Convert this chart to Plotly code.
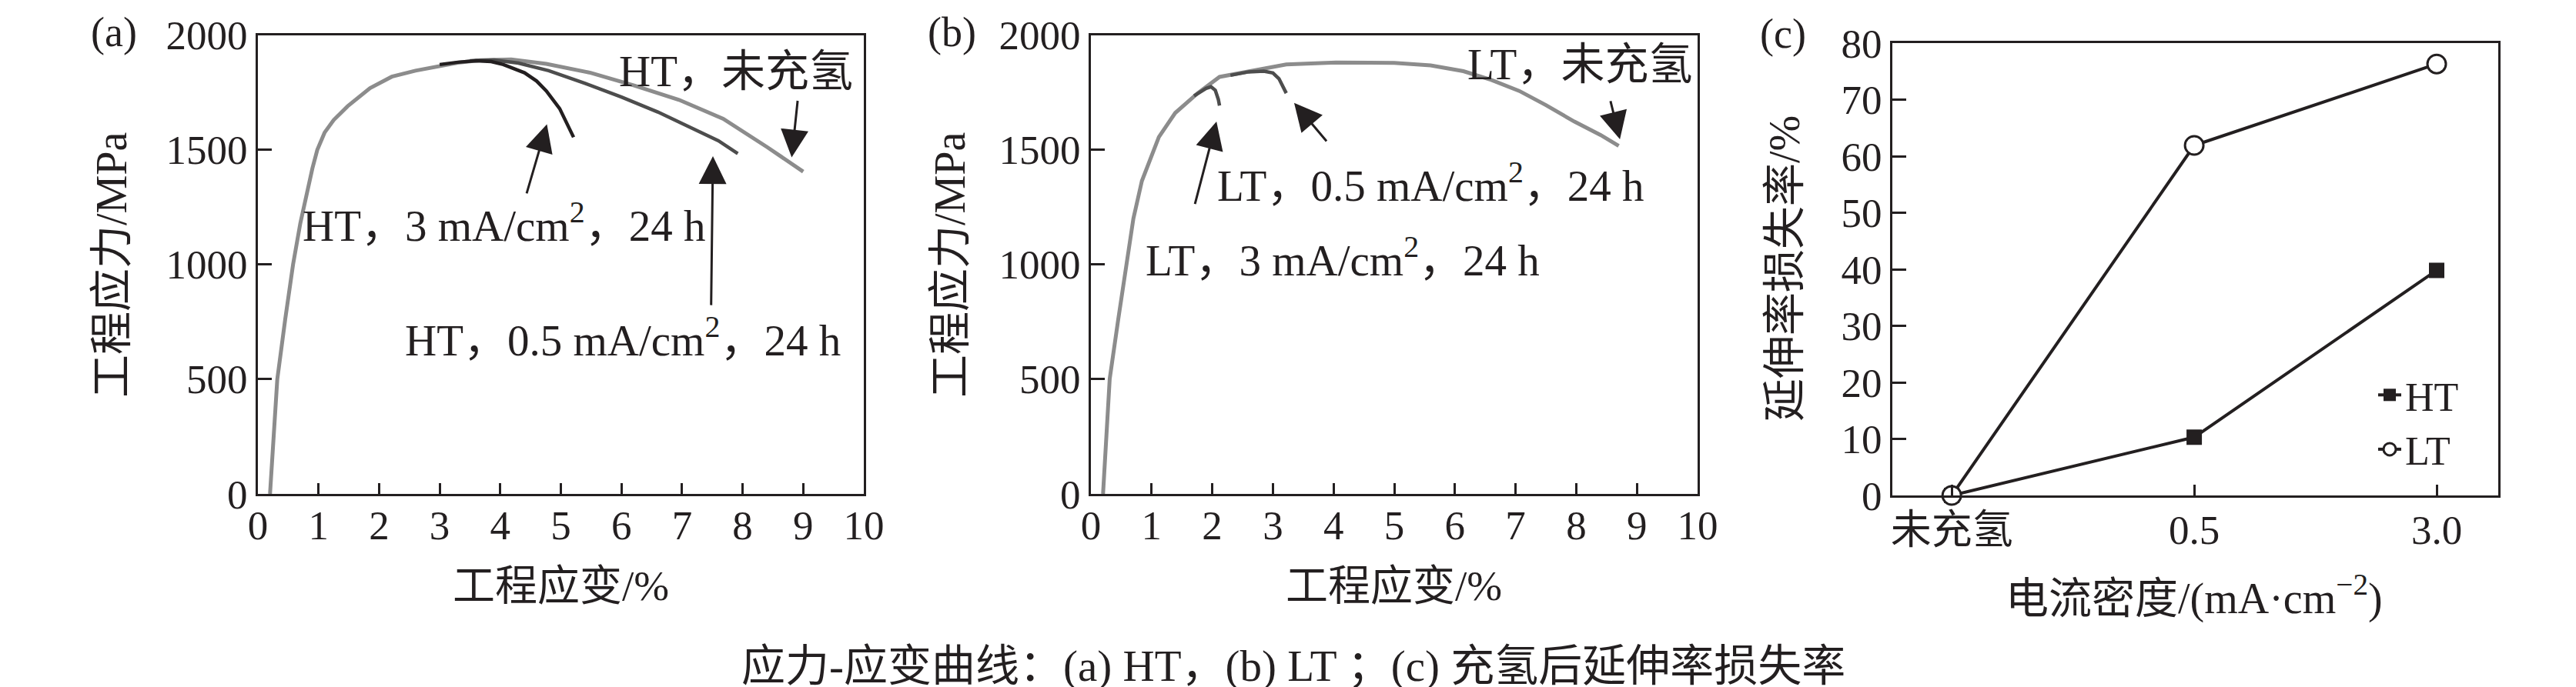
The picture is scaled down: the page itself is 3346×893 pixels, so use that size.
import plotly.graph_objects as go

# ---------------- data ----------------
# (a) HT
ht_un_strain = [0.20, 0.26, 0.32, 0.45, 0.58, 0.70, 0.80, 0.90, 0.98, 1.10, 1.25, 1.48, 1.85, 2.21, 2.6, 2.94, 3.3, 3.67, 4.18, 4.76, 5.49, 6.22, 6.95, 7.68, 8.41, 9.0]
ht_un_stress = [0, 250, 500, 760, 1000, 1180, 1310, 1420, 1500, 1575, 1630, 1690, 1769, 1819, 1845, 1864, 1880, 1891, 1894, 1875, 1836, 1780, 1718, 1635, 1511, 1405]
ht_05_strain = [3.5, 3.9, 4.3, 4.8, 5.4, 6.0, 6.6, 7.2, 7.6, 7.92]
ht_05_stress = [1888, 1892, 1878, 1845, 1790, 1730, 1665, 1590, 1540, 1484]
ht_3_strain = [3.0, 3.3, 3.6, 3.85, 4.05, 4.4, 4.6, 4.76, 4.98, 5.21]
ht_3_stress = [1872, 1882, 1888, 1885, 1872, 1836, 1800, 1757, 1680, 1555]

# (b) LT
lt_un_strain = [0.2, 0.31, 0.45, 0.57, 0.7, 0.84, 1.0, 1.12, 1.39, 1.76, 2.12, 2.67, 3.22, 4.04, 5.0, 5.6, 6.14, 6.6, 7.06, 7.5, 7.97, 8.4, 8.70]
lt_un_stress = [0, 502, 760, 981, 1200, 1364, 1480, 1556, 1661, 1747, 1818, 1847, 1872, 1881, 1879, 1868, 1843, 1805, 1757, 1695, 1623, 1565, 1517]
lt_3_strain = [1.7, 1.82, 1.9, 1.98, 2.05, 2.1, 2.12]
lt_3_stress = [1735, 1756, 1768, 1775, 1760, 1720, 1693]
lt_05_strain = [2.3, 2.6, 2.85, 3.0, 3.1, 3.22]
lt_05_stress = [1825, 1840, 1843, 1835, 1810, 1747]

# (c) elongation loss
c_categories = ["未充氢", "0.5", "3.0"]
c_ht = [0, 10.3, 39.8]
c_lt = [0, 61.9, 76.3]

strain_ticks = list(range(0, 11))
stress_ticks = [0, 500, 1000, 1500, 2000]
loss_ticks = [0, 10, 20, 30, 40, 50, 60, 70, 80]

# annotation labels (text, x, y, xanchor) and arrows (head x, head y, tail x, tail y)
a_labels = [("HT，未充氢", 9.85, 1842, "right"),
            ("HT，3 mA/cm<sup>2</sup>，24 h", 4.06, 1185, "center"),
            ("HT，0.5 mA/cm<sup>2</sup>，24 h", 9.64, 684, "right")]
a_arrows = [(8.81, 1467, 8.91, 1719), (4.77, 1612, 4.43, 1305), (7.51, 1472, 7.48, 818)]
b_labels = [("LT，未充氢", 9.94, 1872, "right"),
            ("LT，0.5 mA/cm<sup>2</sup>，24 h", 5.60, 1358, "center"),
            ("LT，3 mA/cm<sup>2</sup>，24 h", 4.15, 1034, "center")]
b_arrows = [(8.72, 1546, 8.56, 1718), (3.35, 1705, 3.90, 1533), (2.07, 1623, 1.71, 1259)]

# ---------------- style ----------------
FONT = "Liberation Serif, 'Times New Roman', Noto Sans CJK SC, serif"
INK = "#231f20"
GRAY = "#8c8c8c"
DARK = "#4d4d4d"
W, H = 3346, 893
NB = "\u00a0"

def px_x(p):
    return p / W

def px_y(p):
    return 1 - p / H

fig = go.Figure()

def line(x, y, color, width, xa, ya):
    fig.add_trace(go.Scatter(x=x, y=y, mode="lines", line=dict(color=color, width=width),
                             xaxis=xa, yaxis=ya, showlegend=False, hoverinfo="skip"))

# (a)
line(ht_un_strain, ht_un_stress, GRAY, 5, "x", "y")
line(ht_05_strain, ht_05_stress, DARK, 4.5, "x", "y")
line(ht_3_strain, ht_3_stress, INK, 4.5, "x", "y")
# (b)
line(lt_un_strain, lt_un_stress, GRAY, 5, "x2", "y2")
line(lt_3_strain, lt_3_stress, DARK, 4.5, "x2", "y2")
line(lt_05_strain, lt_05_stress, DARK, 4.5, "x2", "y2")
# (c)
fig.add_trace(go.Scatter(x=c_categories, y=c_ht, mode="lines+markers", name="HT",
                         line=dict(color=INK, width=4),
                         marker=dict(symbol="square", size=20, color=INK),
                         xaxis="x3", yaxis="y3", cliponaxis=False))
fig.add_trace(go.Scatter(x=c_categories, y=c_lt, mode="lines+markers", name="LT",
                         line=dict(color=INK, width=4),
                         marker=dict(symbol="circle", size=24, color="white", line=dict(color=INK, width=3)),
                         xaxis="x3", yaxis="y3", cliponaxis=False))

axis_common = dict(showline=True, mirror=True, linecolor=INK, linewidth=3, ticks="inside",
                   tickcolor=INK, tickwidth=3, showgrid=False, zeroline=False, automargin=False,
                   tickfont=dict(family=FONT, size=53, color=INK))

ya_dom = [px_y(634), px_y(37.7)]
yc_dom = [px_y(636), px_y(48)]

fig.update_layout(
    template="none",
    width=W, height=H, margin=dict(l=0, r=0, t=0, b=0, autoexpand=False),
    paper_bgcolor="white", plot_bgcolor="white",
    font=dict(family=FONT, color=INK),
    xaxis=dict(domain=[px_x(327), px_x(1114)], range=[0, 10], tickvals=strain_ticks, ticklen=14,
               anchor="y", ticklabelstandoff=-8, **axis_common),
    yaxis=dict(domain=ya_dom, range=[0, 2000], tickvals=stress_ticks, ticklen=18,
               anchor="x", ticksuffix=NB, **axis_common),
    xaxis2=dict(domain=[px_x(1409), px_x(2197)], range=[0, 10], tickvals=strain_ticks, ticklen=14,
                anchor="y2", ticklabelstandoff=-8, **axis_common),
    yaxis2=dict(domain=ya_dom, range=[0, 2000], tickvals=stress_ticks, ticklen=18,
                anchor="x2", ticksuffix=NB, **axis_common),
    xaxis3=dict(domain=[px_x(2450), px_x(3237)], type="category", range=[-0.245, 2.254],
                ticklen=14, anchor="y3", ticklabelstandoff=-4, **axis_common),
    yaxis3=dict(domain=yc_dom, range=[0, 80], tickvals=loss_ticks, ticklen=18,
                anchor="x3", ticksuffix=NB, **axis_common),
    legend=dict(x=px_x(3076), y=px_y(465), xanchor="left", yanchor="top",
                bgcolor="rgba(0,0,0,0)", font=dict(family=FONT, size=52, color=INK),
                tracegroupgap=0),
    showlegend=True,
)

ann = []
for txt, x, y, xa in a_labels:
    ann.append(dict(text=txt, x=x, y=y, xref="x", yref="y", xanchor=xa, yanchor="middle",
                    showarrow=False, font=dict(family=FONT, size=57, color=INK)))
for txt, x, y, xa in b_labels:
    ann.append(dict(text=txt, x=x, y=y, xref="x2", yref="y2", xanchor=xa, yanchor="middle",
                    showarrow=False, font=dict(family=FONT, size=57, color=INK)))
for (hx, hy, tx, ty), (xr, yr) in [(a, ("x", "y")) for a in a_arrows] + [(b, ("x2", "y2")) for b in b_arrows]:
    ann.append(dict(text="", x=hx, y=hy, ax=tx, ay=ty, xref=xr, yref=yr, axref=xr, ayref=yr,
                    showarrow=True, arrowhead=2, arrowsize=2.4, arrowwidth=3, arrowcolor=INK))

def paper_text(txt, x, y, size, angle=0):
    ann.append(dict(text=txt, x=px_x(x), y=px_y(y), xref="paper", yref="paper",
                    xanchor="center", yanchor="middle", showarrow=False, textangle=angle,
                    font=dict(family=FONT, size=size, color=INK)))

paper_text("(a)", 140, 34, 54)
paper_text("(b)", 1228, 34, 54)
paper_text("(c)", 2308, 36, 54)
paper_text("工程应变/%", 720, 753, 55)
paper_text("工程应变/%", 1802, 753, 55)
paper_text("工程应力/MPa", 137, 337, 56, -90)
paper_text("工程应力/MPa", 1226, 337, 56, -90)
paper_text("延伸率损失率/%", 2310, 341, 56, -90)
paper_text("电流密度/(mA·cm<sup>−2</sup>)", 2842, 766, 56)
paper_text("应力-应变曲线：(a) HT，(b) LT ；(c) 充氢后延伸率损失率", 1672, 858, 57)

fig.update_layout(annotations=ann)
fig.write_html("out.html")
